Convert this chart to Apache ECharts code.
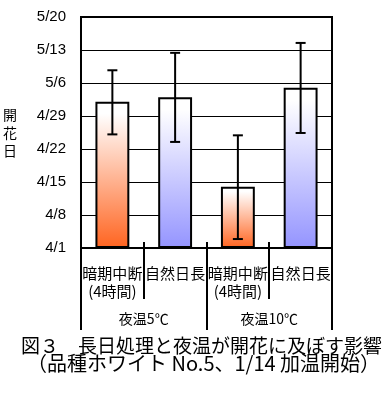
<!DOCTYPE html>
<html><head><meta charset="utf-8">
<script src="https://cdn.jsdelivr.net/npm/echarts@6/dist/echarts.min.js"></script>
<style>html,body{margin:0;padding:0;background:#fff}#c{width:387px;height:399px}</style>
</head><body><div id="c"></div>
<script>
// days since 4/1
const categories = ['暗期中断\n(4時間)', '自然日長', '暗期中断\n(4時間)', '自然日長'];
const groups = ['夜温5℃', '夜温10℃'];
const meanDays = [31, 32, 13, 34];
const errLow = [24.1, 22.5, 1.9, 24.4];
const errHigh = [37.7, 41.4, 23.9, 43.5];
const tickLabels = ['4/1', '4/8', '4/15', '4/22', '4/29', '5/6', '5/13', '5/20'];
const barTypes = ['orange', 'blue', 'orange', 'blue'];
const titleLines = ['図３　長日処理と夜温が開花に及ぼす影響', '（品種ホワイト No.5、1/14 加温開始）'];

const grad = (c) => ({type:'linear',x:0,y:0,x2:0,y2:1,colorStops:[
  {offset:0,color:'#ffffff'},{offset:0.08,color:'#ffffff'},{offset:1,color:c}]});
const colors = {orange: grad('#ff6420'), blue: grad('#9494ff')};

const chart = echarts.init(document.getElementById('c'));
const font = '"Noto Sans CJK JP", sans-serif';
chart.setOption({
  animation:false,
  title: titleLines.map((t,i)=>({
    text:t, left:i===0?21:27, top:i===0?336:353, padding:0,
    textStyle:{fontFamily:font, fontSize:i===0?19:20, fontWeight:'normal', color:'#000'}
  })),
  grid:{left:79, right:55, top:17, bottom:151, show:true, borderColor:'#000', borderWidth:2},
  xAxis:[
    {type:'category', data:categories, position:'bottom',
     axisLine:{show:true, lineStyle:{color:'#000', width:2}},
     axisTick:{show:true, length:51, interval:0, lineStyle:{color:'#000', width:2}},
     axisLabel:{interval:0, margin:16, fontFamily:font, fontSize:15, color:'#000', lineHeight:18}},
    {type:'category', data:groups, position:'bottom', gridIndex:0,
     axisLine:{show:false},
     axisTick:{show:true, length:82, interval:0, lineStyle:{color:'#000', width:2}},
     axisLabel:{interval:0, margin:64, fontFamily:font, fontSize:14, color:'#000'}},
    {type:'category', data:categories, position:'bottom', gridIndex:0,
     axisLine:{show:false},
     axisTick:{show:true, inside:true, length:6, interval:0, lineStyle:{color:'#000', width:2}},
     axisLabel:{show:false}}
  ],
  yAxis:{
    type:'value', min:0, max:49, interval:7,
    name:'開\n花\n日', nameLocation:'middle', nameRotate:0, nameGap:64,
    nameTextStyle:{fontFamily:font, fontSize:14, color:'#000', lineHeight:18, padding:[10,0,0,0]},
    axisLine:{show:true, lineStyle:{color:'#000', width:2}},
    axisTick:{show:false},
    splitLine:{show:true, lineStyle:{color:'#000', width:1}},
    axisLabel:{margin:15, fontFamily:'"Liberation Sans", Arial, sans-serif', fontSize:15, color:'#000',
      formatter:(v)=>tickLabels[Math.round(v/7)]}
  },
  series:[
    {type:'bar', xAxisIndex:0, barWidth:'54%',
     data: meanDays.map((v,i)=>({value:v, itemStyle:{color:colors[barTypes[i]]}})),
     itemStyle:{borderColor:'#000', borderWidth:2}},
    {type:'custom', xAxisIndex:0, z:10,
     data: meanDays.map((v,i)=>[i, errLow[i], errHigh[i]]),
     renderItem:(params, api)=>{
       const lo = api.coord([api.value(0), api.value(1)]);
       const hi = api.coord([api.value(0), api.value(2)]);
       const hw = 5;
       const st = {stroke:'#000', lineWidth:2};
       return {type:'group', children:[
         {type:'line', shape:{x1:lo[0],y1:lo[1],x2:hi[0],y2:hi[1]}, style:st},
         {type:'line', shape:{x1:lo[0]-hw,y1:lo[1],x2:lo[0]+hw,y2:lo[1]}, style:st},
         {type:'line', shape:{x1:hi[0]-hw,y1:hi[1],x2:hi[0]+hw,y2:hi[1]}, style:st}
       ]};
     }}
  ]
});
</script></body></html>
